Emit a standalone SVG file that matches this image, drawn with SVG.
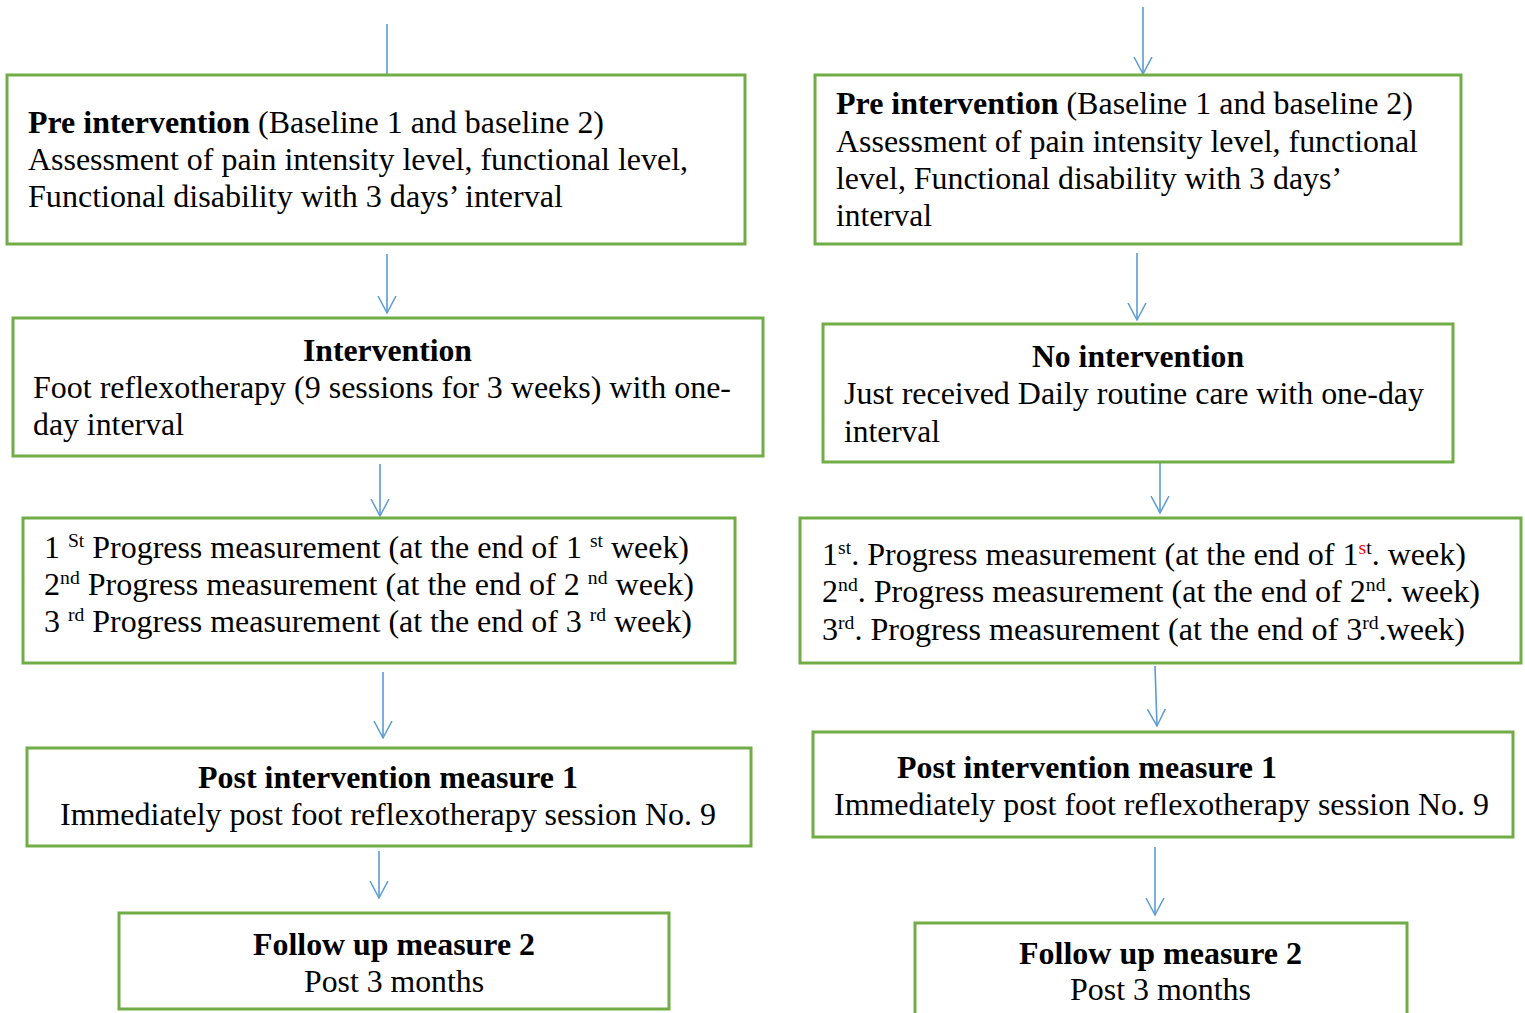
<svg xmlns="http://www.w3.org/2000/svg" width="1525" height="1013" viewBox="0 0 1525 1013">
<defs>
<marker id="ah" markerUnits="userSpaceOnUse" markerWidth="20" markerHeight="22" viewBox="0 -11 20 22" refX="17" refY="0" orient="auto">
<path d="M0,-9 L17,0 L0,9" fill="none" stroke="#5B9BD5" stroke-width="1.5"/>
</marker>
</defs>
<style>
.box{fill:#fff;stroke:#70AD47;stroke-width:3}
.t{font-family:"Liberation Serif","Times New Roman",serif;font-size:31px;fill:#000}
.b{font-weight:bold}
.c{stroke:#5B9BD5;stroke-width:1.6;fill:none}
.s{font-size:19px}
.red{fill:#FF0000}
</style>
<rect width="1525" height="1013" fill="#fff"/>
<g id="connectors">
<line class="c" x1="387" y1="24" x2="387" y2="75"/>
<line class="c" x1="387" y1="254" x2="387" y2="313" marker-end="url(#ah)"/>
<line class="c" x1="380" y1="464" x2="380" y2="516" marker-end="url(#ah)"/>
<line class="c" x1="383" y1="672" x2="383" y2="738" marker-end="url(#ah)"/>
<line class="c" x1="379" y1="851" x2="379" y2="898" marker-end="url(#ah)"/>
<line class="c" x1="1143" y1="7" x2="1143" y2="74" marker-end="url(#ah)"/>
<line class="c" x1="1137" y1="253" x2="1137" y2="320" marker-end="url(#ah)"/>
<line class="c" x1="1160" y1="451" x2="1160" y2="513" marker-end="url(#ah)"/>
<line class="c" x1="1155" y1="666" x2="1157" y2="726" marker-end="url(#ah)"/>
<line class="c" x1="1155" y1="847" x2="1155" y2="915" marker-end="url(#ah)"/>
</g>
<g id="l-pre">
<rect class="box" x="7" y="75" width="738" height="169"/>
<text class="t" x="28" y="133" textLength="576" lengthAdjust="spacingAndGlyphs"><tspan class="b">Pre intervention</tspan> (Baseline 1 and baseline 2)</text>
<text class="t" x="28" y="170" textLength="660" lengthAdjust="spacingAndGlyphs">Assessment of pain intensity level, functional level,</text>
<text class="t" x="28" y="207" textLength="535" lengthAdjust="spacingAndGlyphs">Functional disability with 3 days’ interval</text>
</g>
<g id="l-int">
<rect class="box" x="13" y="318" width="750" height="138"/>
<text class="t b" x="303" y="361" textLength="169" lengthAdjust="spacingAndGlyphs">Intervention</text>
<text class="t" x="33" y="398" textLength="698" lengthAdjust="spacingAndGlyphs">Foot reflexotherapy (9 sessions for 3 weeks) with one-</text>
<text class="t" x="33" y="435" textLength="151" lengthAdjust="spacingAndGlyphs">day interval</text>
</g>
<g id="l-prog">
<rect class="box" x="23" y="518" width="712" height="145"/>
<text class="t" x="44" y="558" textLength="645" lengthAdjust="spacingAndGlyphs">1 <tspan class="s" dy="-11">St</tspan><tspan dy="11"> Progress measurement (at the end of 1 </tspan><tspan class="s" dy="-11">st</tspan><tspan dy="11"> week)</tspan></text>
<text class="t" x="44" y="595" textLength="650" lengthAdjust="spacingAndGlyphs">2<tspan class="s" dy="-11">nd</tspan><tspan dy="11"> Progress measurement (at the end of 2 </tspan><tspan class="s" dy="-11">nd</tspan><tspan dy="11"> week)</tspan></text>
<text class="t" x="44" y="632" textLength="648" lengthAdjust="spacingAndGlyphs">3 <tspan class="s" dy="-11">rd</tspan><tspan dy="11"> Progress measurement (at the end of 3 </tspan><tspan class="s" dy="-11">rd</tspan><tspan dy="11"> week)</tspan></text>
</g>
<g id="l-post">
<rect class="box" x="27" y="748" width="724" height="98"/>
<text class="t b" x="198" y="788" textLength="380" lengthAdjust="spacingAndGlyphs">Post intervention measure 1</text>
<text class="t" x="60" y="825" textLength="656" lengthAdjust="spacingAndGlyphs">Immediately post foot reflexotherapy session No. 9</text>
</g>
<g id="l-follow">
<rect class="box" x="119" y="913" width="550" height="96"/>
<text class="t b" x="253" y="955" textLength="282" lengthAdjust="spacingAndGlyphs">Follow up measure 2</text>
<text class="t" x="304" y="992" textLength="180" lengthAdjust="spacingAndGlyphs">Post 3 months</text>
</g>
<g id="r-pre">
<rect class="box" x="815" y="75" width="646" height="169"/>
<text class="t" x="836" y="114" textLength="577" lengthAdjust="spacingAndGlyphs"><tspan class="b">Pre intervention</tspan> (Baseline 1 and baseline 2)</text>
<text class="t" x="836" y="152" textLength="582" lengthAdjust="spacingAndGlyphs">Assessment of pain intensity level, functional</text>
<text class="t" x="836" y="189" textLength="506" lengthAdjust="spacingAndGlyphs">level, Functional disability with 3 days’</text>
<text class="t" x="836" y="226" textLength="96" lengthAdjust="spacingAndGlyphs">interval</text>
</g>
<g id="r-noint">
<rect class="box" x="823" y="324" width="630" height="138"/>
<text class="t b" x="1032" y="367" textLength="212" lengthAdjust="spacingAndGlyphs">No intervention</text>
<text class="t" x="844" y="404" textLength="580" lengthAdjust="spacingAndGlyphs">Just received Daily routine care with one-day</text>
<text class="t" x="844" y="442" textLength="96" lengthAdjust="spacingAndGlyphs">interval</text>
</g>
<g id="r-prog">
<rect class="box" x="800" y="518" width="721" height="145"/>
<text class="t" x="822" y="565" textLength="644" lengthAdjust="spacingAndGlyphs">1<tspan class="s" dy="-11">st</tspan><tspan dy="11">. Progress measurement (at the end of 1</tspan><tspan class="s" dy="-11"><tspan class="red">s</tspan>t</tspan><tspan dy="11">. week)</tspan></text>
<text class="t" x="822" y="602" textLength="658" lengthAdjust="spacingAndGlyphs">2<tspan class="s" dy="-11">nd</tspan><tspan dy="11">. Progress measurement (at the end of 2</tspan><tspan class="s" dy="-11">nd</tspan><tspan dy="11">. week)</tspan></text>
<text class="t" x="822" y="640" textLength="643" lengthAdjust="spacingAndGlyphs">3<tspan class="s" dy="-11">rd</tspan><tspan dy="11">. Progress measurement (at the end of 3</tspan><tspan class="s" dy="-11">rd</tspan><tspan dy="11">.week)</tspan></text>
</g>
<g id="r-post">
<rect class="box" x="813" y="732" width="700" height="105"/>
<text class="t b" x="897" y="778" textLength="380" lengthAdjust="spacingAndGlyphs">Post intervention measure 1</text>
<text class="t" x="834" y="815" textLength="655" lengthAdjust="spacingAndGlyphs">Immediately post foot reflexotherapy session No. 9</text>
</g>
<g id="r-follow">
<rect class="box" x="915" y="923" width="492" height="100"/>
<text class="t b" x="1019" y="964" textLength="283" lengthAdjust="spacingAndGlyphs">Follow up measure 2</text>
<text class="t" x="1070" y="1000" textLength="181" lengthAdjust="spacingAndGlyphs">Post 3 months</text>
</g>
</svg>
